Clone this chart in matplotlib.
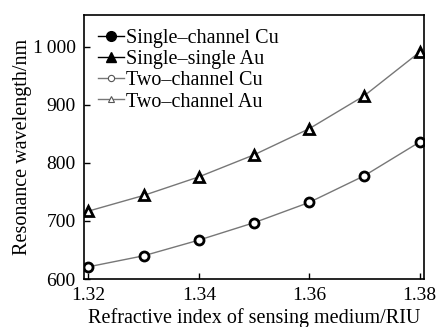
import matplotlib
matplotlib.use("Agg")
import matplotlib.pyplot as plt
from matplotlib.lines import Line2D
from matplotlib.ticker import FuncFormatter

plt.rcParams['font.family'] = ['Liberation Serif', 'DejaVu Serif']

n = [1.32, 1.33, 1.34, 1.35, 1.36, 1.37, 1.38]
cu = [621, 640, 667, 697, 732, 778, 836]
au = [717, 744, 776, 814, 859, 916, 991]

fig = plt.figure(figsize=(4.38, 3.27), dpi=100)
ax = fig.add_axes([84/438, 48/327, 340/438, 264/327])

ax.plot(n, cu, '-', color='#777777', lw=1.0)
ax.plot(n, au, '-', color='#777777', lw=1.0)
ax.plot(n, cu, 'o', ms=6.5, mfc='white', mec='black', mew=2.0, ls='none')
ax.plot(n, au, '^', ms=7, mfc='white', mec='black', mew=2.0, ls='none')

ax.set_xlim(1.3192, 1.3808)
ax.set_ylim(600, 1055)
ax.set_xticks([1.32, 1.34, 1.36, 1.38])
ax.set_yticks([600, 700, 800, 900, 1000])
ax.yaxis.set_major_formatter(FuncFormatter(
    lambda v, p: '1\u2009000' if v == 1000 else '%d' % v))
ax.tick_params(direction='in', length=4, width=1, labelsize=14)
ax.tick_params(axis='x', pad=6)
ax.tick_params(axis='y', pad=6)
for s in ax.spines.values():
    s.set_linewidth(1.2)

ax.set_xlabel('Refractive index of sensing medium/RIU', fontsize=14.5, labelpad=3)
ax.set_ylabel('Resonance wavelength/nm', fontsize=14.5, labelpad=0.5)

handles = [
    Line2D([], [], color='black', lw=1, marker='o', ms=7, mfc='black', mec='black'),
    Line2D([], [], color='black', lw=1, marker='^', ms=7.5, mfc='black', mec='black'),
    Line2D([], [], color='#777777', lw=1, marker='o', ms=4.5, mfc='white', mec='#555555', mew=0.8),
    Line2D([], [], color='#777777', lw=1, marker='^', ms=5, mfc='white', mec='#555555', mew=0.8),
]
labels = ['Single\u2013channel Cu', 'Single\u2013single Au',
          'Two\u2013channel Cu', 'Two\u2013channel Au']
ax.legend(handles, labels, loc='upper left', frameon=False, fontsize=14.5,
          handlelength=1.3, handletextpad=0.1, labelspacing=0.1,
          borderaxespad=0.3, bbox_to_anchor=(0.0, 1.0))

fig.savefig('out.png', dpi=100)
